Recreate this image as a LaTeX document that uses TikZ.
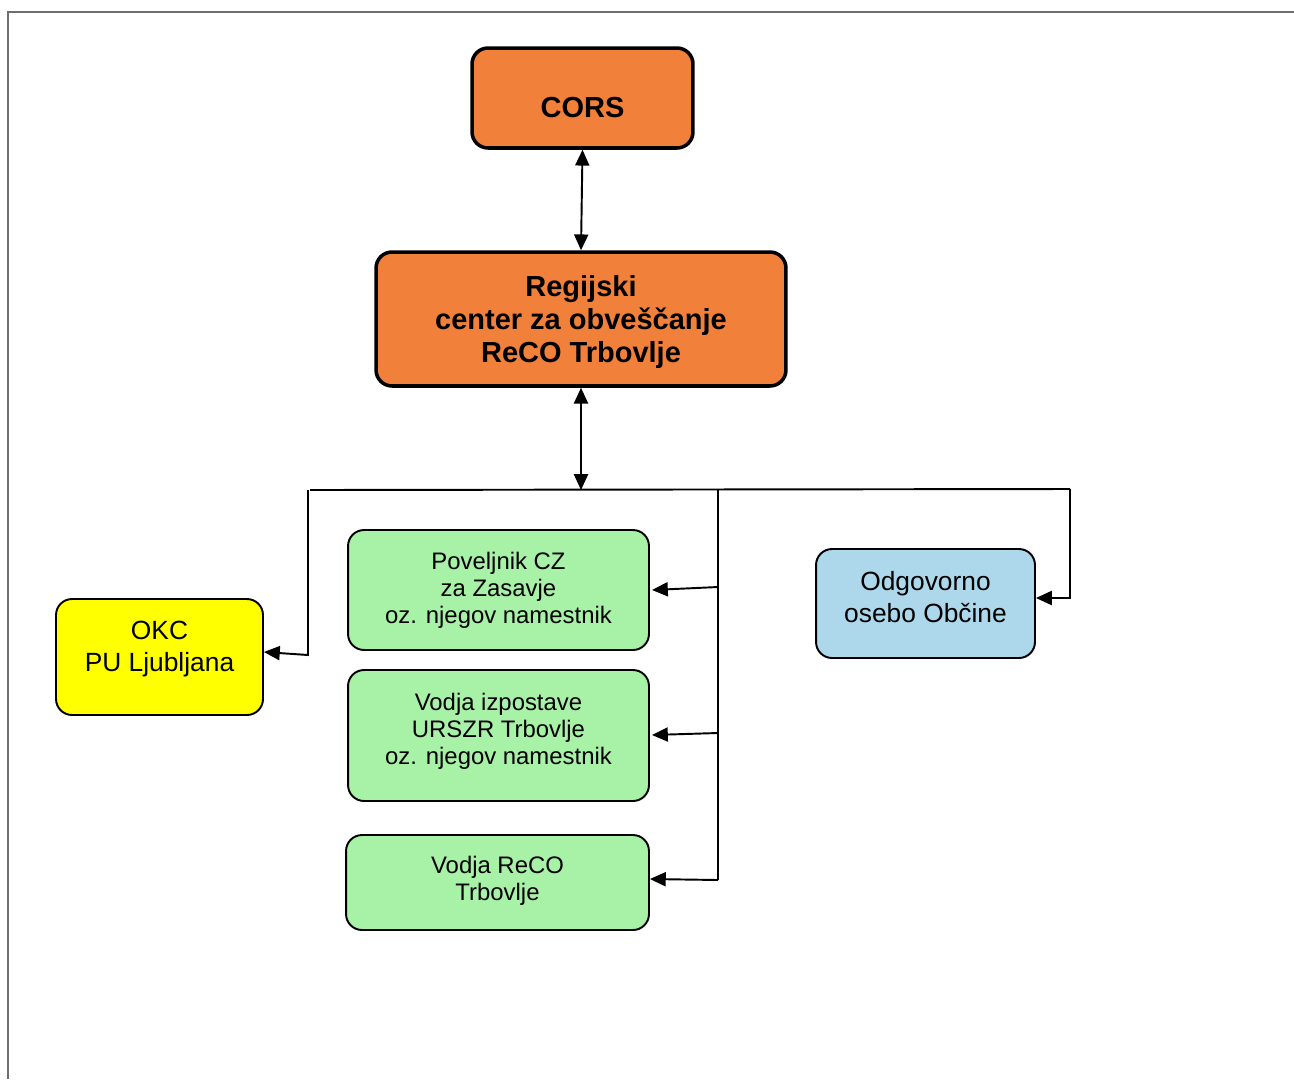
\documentclass[tikz,border=0pt]{standalone}
\usepackage{fontspec}
\setmainfont{Liberation Sans}
\usetikzlibrary{arrows.meta}
\definecolor{orangebox}{RGB}{240,128,58}
\definecolor{greenbox}{RGB}{168,242,168}
\definecolor{bluebox}{RGB}{173,216,236}
\definecolor{yellowbox}{RGB}{255,255,0}
\definecolor{framegray}{RGB}{110,110,110}
\tikzset{
  box/.style={draw=black, rounded corners=0.32cm, line width=1.1pt, inner sep=0pt},
  mainbox/.style={box, fill=orangebox, line width=2pt},
  txtbig/.style={align=center, font=\fontsize{16.5}{18.7}\selectfont\bfseries, inner sep=0pt},
  txtmid/.style={align=center, font=\fontsize{15}{17.8}\selectfont, inner sep=0pt},
  txtsmall/.style={align=center, font=\fontsize{13.6}{15.3}\selectfont, inner sep=0pt},
  conn/.style={line width=1.1pt, -{Triangle[length=9pt,width=8pt]}},
  conn2/.style={line width=1.1pt, {Triangle[length=9pt,width=8pt]}-{Triangle[length=9pt,width=8pt]}},
  busline/.style={line width=1.1pt}
}
\begin{document}
\begin{tikzpicture}[x=0.02cm,y=-0.02cm]
\useasboundingbox (0,0) rectangle (1294,1079);
% frame
\draw[framegray, line width=1.2pt] (8,1079) -- (8,12) -- (1294,12);

% boxes
\node[mainbox, minimum width=4.42cm, minimum height=2.0cm] (cors) at (582.5,98) {};
\node[txtbig] (corst) at (582.5,108) {CORS};

\node[mainbox, minimum width=8.2cm, minimum height=2.68cm] (reg) at (581,319) {};
\node[txtbig] (regt) at (581,322) {Regijski\\center za obveščanje\\ReCO Trbovlje};

\node[box, fill=yellowbox, minimum width=4.14cm, minimum height=2.32cm] (okc) at (159.5,657) {};
\node[txtmid] (okct) at (159.5,649) {OKC\\PU Ljubljana};

\node[box, fill=greenbox, minimum width=6.02cm, minimum height=2.4cm] (pov) at (498.5,590) {};
\node[txtsmall] (povt) at (498.5,590) {Poveljnik CZ\\za Zasavje\\oz. njegov namestnik};

\node[box, fill=greenbox, minimum width=6.02cm, minimum height=2.62cm] (izp) at (498.5,735.5) {};
\node[txtsmall] (izpt) at (498.5,731.5) {Vodja izpostave\\URSZR Trbovlje\\oz. njegov namestnik};

\node[box, fill=greenbox, minimum width=6.06cm, minimum height=1.9cm] (vod) at (497.5,882.5) {};
\node[txtsmall] (vodt) at (497.5,880.5) {Vodja ReCO\\Trbovlje};

\node[box, fill=bluebox, minimum width=4.38cm, minimum height=2.18cm] (odg) at (925.5,603.5) {};
\node[txtmid] (odgt) at (925.5,597) {Odgovorno\\osebo Občine};

% coordinates of the distribution lines
\coordinate (bus) at (581,490);
\coordinate (busL) at (310,490);
\coordinate (busR) at (1070,489);
\coordinate (lTop) at (308,490);
\coordinate (lBot) at (308,655);
\coordinate (mTop) at (718,490);
\coordinate (m1) at (718,587);
\coordinate (m2) at (718,733);
\coordinate (m3) at (718,880);
\coordinate (rBot) at (1070,598);

% connectors
\draw[conn2] (cors.south) -- (reg.north);
\draw[conn2] (reg.south) -- (bus);
\draw[busline] (busL) -- (busR);
\draw[conn] (lTop) -- (lBot) -- (okc.east |- 0,652);
\draw[busline] (mTop) -- (m3);
\draw[conn] (m1) -- (652,590);
\draw[conn] (m2) -- (652,735);
\draw[conn] (m3) -- (vod.east |- 0,879);
\draw[conn] (busR) -- (rBot) -- (odg.east |- 0,598);
\end{tikzpicture}
\end{document}
